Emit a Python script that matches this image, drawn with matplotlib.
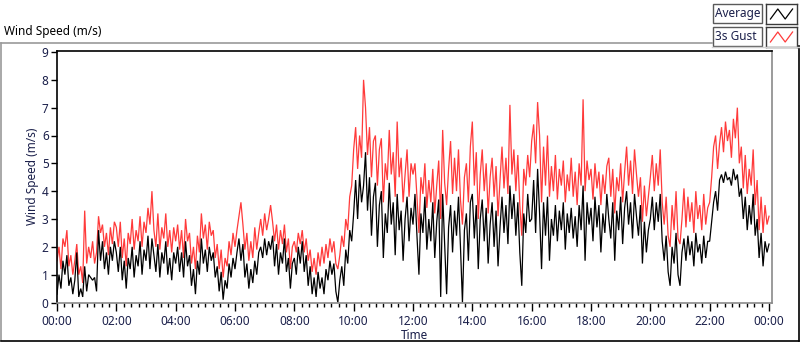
import matplotlib
matplotlib.use("Agg")
import matplotlib.pyplot as plt
from matplotlib.lines import Line2D
from matplotlib.patches import Rectangle
from matplotlib.ticker import MultipleLocator, FuncFormatter
import numpy as np

plt.rcParams['font.family'] = ['Noto Sans', 'DejaVu Sans']

# ---- data (4-minute samples, 00:00 .. 24:00) ----
step_min = 4
average = [
    # 00:00-02:00
    0.3, 1.0, 0.5, 1.5, 1.0, 1.7, 0.6, 0.9, 0.3, 0.8, 1.8, 0.2, 0.5, 0.2, 1.3, 0.4, 1.0, 0.9, 0.8, 0.9, 0.4, 2.6, 1.5, 2.2, 1.2, 1.8, 1.0, 2.0, 1.5, 2.2,
    # 02:00-04:00
    1.8, 1.1, 2.0, 0.8, 1.5, 0.5, 1.6, 1.2, 2.0, 0.9, 1.7, 1.3, 2.2, 1.0, 1.9, 1.5, 2.4, 1.2, 2.3, 1.7, 1.1, 2.1, 0.9, 1.8, 1.4, 2.2, 1.0, 1.6, 0.8, 1.8,
    # 04:00-06:00
    1.4, 2.0, 1.1, 1.8, 0.9, 2.2, 1.3, 1.7, 0.6, 1.2, 0.3, 1.5, 1.0, 2.3, 1.4, 1.9, 1.1, 2.0, 1.5, 1.8, 0.9, 1.3, 0.4, 1.1, 0.1, 0.8, 0.5, 1.4, 0.9, 1.6,
    # 06:00-08:00
    1.2, 1.8, 2.3, 1.5, 2.1, 0.9, 1.4, 0.5, 1.2, 0.7, 1.5, 1.0, 1.8, 2.0, 1.6, 2.3, 1.7, 2.2, 1.9, 2.4, 1.3, 2.1, 1.0, 1.8, 1.4, 2.3, 1.1, 1.6, 0.5, 1.4,
    # 08:00-10:00
    1.6, 1.0, 2.0, 1.4, 2.2, 1.1, 1.7, 0.6, 1.3, 0.3, 0.9, 0.2, 1.1, 0.5, 0.9, 0.3, 1.2, 0.8, 1.5, 1.0, 1.4, 0.4, 0.0, 0.8, 1.3, 0.6, 1.9, 1.4, 2.6, 2.2,
    # 10:00-12:00
    3.2, 4.4, 3.0, 4.6, 3.6, 4.2, 5.4, 3.3, 4.5, 2.4, 3.8, 4.3, 2.0, 3.5, 4.0, 1.6, 3.2, 2.5, 4.3, 2.8, 3.6, 1.7, 3.9, 2.6, 3.3, 1.5, 3.0, 3.8, 2.2, 3.4,
    # 12:00-14:00
    2.8, 3.9, 2.4, 1.0, 3.2, 2.5, 3.8, 1.9, 3.0, 2.2, 3.6, 1.6, 2.9, 3.7, 0.2, 3.9, 2.1, 0.3, 2.7, 3.5, 1.8, 3.3, 2.4, 3.8, 2.0, 0.0, 2.6, 3.2, 1.5, 3.6,
    # 14:00-16:00
    3.9, 2.3, 3.5, 1.2, 3.0, 3.7, 2.2, 3.4, 1.4, 2.8, 3.6, 2.0, 3.3, 1.3, 2.7, 3.8, 2.5, 3.5, 2.1, 4.2, 3.0, 3.9, 2.4, 3.6, 1.8, 0.6, 3.2, 2.5, 3.9, 2.9,
    # 16:00-18:00
    3.0, 4.4, 2.5, 4.8, 3.2, 1.2, 3.6, 2.4, 3.8, 1.5, 3.0, 2.4, 3.5, 2.2, 3.3, 2.6, 3.6, 1.9, 3.2, 2.5, 3.4, 2.3, 3.1, 2.0, 3.5, 2.6, 4.2, 1.5, 3.6, 2.8,
    # 18:00-20:00
    3.4, 2.2, 3.8, 2.7, 3.5, 1.8, 3.2, 2.5, 3.9, 3.0, 2.3, 3.6, 1.5, 3.3, 2.6, 3.8, 2.1, 3.4, 4.0, 2.8, 3.6, 2.3, 3.9, 3.1, 2.4, 3.5, 1.4, 2.9, 1.8, 2.6,
    # 20:00-22:00
    3.0, 3.8, 2.6, 3.6, 2.9, 3.9, 2.2, 1.5, 2.4, 1.1, 0.6, 2.0, 1.4, 2.5, 1.0, 0.6, 1.8, 2.3, 1.5, 2.4, 1.7, 2.2, 1.3, 2.5, 1.8, 2.1, 1.4, 2.4, 1.6, 2.2,
    # 22:00-24:00
    2.2, 2.9, 3.6, 4.0, 3.3, 4.4, 4.6, 4.3, 4.7, 4.4, 4.5, 4.2, 4.8, 4.4, 4.6, 3.8, 4.1, 3.0, 3.8, 2.6, 3.5, 2.8, 3.9, 2.4, 3.0, 1.6, 2.5, 1.3, 2.2, 1.8, 2.1,
]
gust_3s = [
    # 00:00-02:00
    1.5, 2.0, 1.2, 2.3, 2.0, 2.6, 1.3, 1.7, 1.0, 1.5, 2.1, 1.0, 1.3, 0.7, 3.3, 1.4, 2.0, 1.6, 2.2, 1.4, 1.8, 3.1, 2.5, 2.8, 2.0, 2.5, 1.7, 2.7, 2.1, 2.9,
    # 02:00-04:00
    2.7, 2.0, 2.9, 1.6, 2.3, 1.3, 2.5, 2.1, 3.0, 1.9, 2.6, 2.2, 3.1, 2.0, 2.9, 2.5, 3.4, 2.8, 4.0, 2.6, 2.0, 3.2, 1.9, 2.7, 2.3, 3.2, 2.0, 2.6, 1.8, 2.7,
    # 04:00-06:00
    2.2, 2.8, 1.9, 2.6, 1.6, 3.0, 2.2, 2.5, 1.4, 2.0, 1.2, 2.4, 1.8, 3.2, 2.3, 2.8, 1.9, 2.9, 2.4, 2.6, 1.6, 2.1, 1.2, 1.9, 0.9, 1.6, 1.3, 2.2, 1.7, 2.5,
    # 06:00-08:00
    2.0, 2.6, 3.1, 3.6, 2.8, 1.9, 2.5, 1.5, 2.2, 1.6, 2.7, 1.9, 2.5, 3.0, 2.4, 3.2, 2.6, 3.0, 3.5, 2.9, 2.2, 2.8, 1.9, 2.6, 2.1, 2.8, 1.8, 2.3, 1.2, 2.0,
    # 08:00-10:00
    2.2, 1.8, 2.5, 2.1, 2.6, 1.8, 2.3, 1.5, 1.9, 1.1, 1.6, 1.0, 1.8, 1.3, 2.0, 1.4, 2.1, 1.6, 2.3, 1.8, 2.2, 1.4, 1.2, 1.7, 2.4, 2.0, 3.0, 2.6, 3.8, 4.2,
    # 10:00-12:00
    5.5, 6.3, 4.8, 6.0, 5.2, 8.0, 7.0, 5.3, 6.3, 4.5, 5.8, 6.0, 4.2, 5.5, 5.9, 3.6, 5.0, 4.4, 6.2, 4.6, 5.4, 3.8, 6.5, 4.5, 5.2, 3.6, 4.6, 5.5, 3.8, 5.0,
    # 12:00-14:00
    4.6, 5.0, 3.8, 2.5, 4.5, 3.9, 5.0, 3.4, 4.4, 3.6, 4.8, 3.2, 4.2, 5.1, 3.0, 6.2, 4.3, 3.5, 4.8, 5.8, 3.9, 5.2, 4.0, 5.5, 3.7, 2.8, 4.5, 5.0, 3.6, 5.6,
    # 14:00-16:00
    6.5, 4.2, 5.4, 3.0, 4.6, 5.5, 4.0, 5.0, 3.2, 4.5, 5.2, 3.8, 4.9, 3.1, 4.4, 5.6, 4.1, 5.2, 3.9, 7.1, 4.6, 5.5, 4.0, 5.3, 3.5, 2.4, 4.8, 4.2, 5.3, 4.5,
    # 16:00-18:00
    5.8, 6.4, 5.0, 7.2, 6.0, 3.6, 5.6, 4.2, 6.0, 3.8, 4.9, 4.0, 5.3, 3.7, 4.8, 4.2, 5.1, 3.6, 4.6, 4.0, 5.2, 3.8, 4.7, 3.5, 5.0, 4.2, 7.3, 4.0, 5.1, 4.4,
    # 18:00-20:00
    4.8, 3.7, 5.0, 4.1, 4.7, 3.5, 4.6, 3.9, 4.9, 5.2, 3.8, 4.8, 3.2, 4.5, 4.0, 5.0, 3.6, 4.7, 5.6, 4.2, 5.1, 3.9, 5.5, 4.6, 3.8, 4.5, 2.9, 4.2, 3.1, 3.8,
    # 20:00-22:00
    4.5, 5.3, 4.0, 5.0, 4.2, 5.5, 3.6, 2.8, 3.8, 2.4, 2.0, 3.5, 2.6, 4.0, 2.3, 2.1, 3.0, 4.1, 2.7, 3.8, 2.9, 3.6, 2.5, 4.0, 3.0, 3.5, 2.6, 3.9, 2.8, 3.4,
    # 22:00-24:00
    3.6, 4.5, 5.6, 6.0, 4.8, 5.7, 6.3, 5.4, 6.5, 5.8, 6.2, 5.2, 6.6, 5.9, 7.0, 5.0, 5.6, 4.1, 5.3, 3.9, 4.8, 4.2, 5.5, 3.5, 4.4, 2.6, 3.8, 2.5, 3.5, 2.8, 3.1,
]
series_names = ["Average", "3s Gust"]
y_ticks = list(range(0, 10))
x_tick_hours = list(range(0, 25, 2))

minutes = np.arange(len(average)) * step_min

# ---- figure ----
W, H = 800, 342
fig = plt.figure(figsize=(W / 100, H / 100), dpi=100)
fig.patch.set_facecolor('white')

def fx(px):
    return px / W

def fy(py):
    return 1 - py / H

txt_col = '#1a1f4a'

ax = fig.add_axes([fx(57), fy(302.5), fx(772 - 57), (302.5 - 51) / H])
ax.plot(minutes, gust_3s, color='#ff3a3a', lw=0.9, solid_joinstyle='miter')
ax.plot(minutes, average, color='black', lw=0.9, solid_joinstyle='miter')

ax.set_xlim(0, 1440 * 715 / 712)
ax.set_ylim(0, 9 * 251.5 / 250.5)
ax.set_yticks(y_ticks)
ax.set_xticks([h * 60 for h in x_tick_hours])
ax.xaxis.set_minor_locator(MultipleLocator(15))
ax.xaxis.set_major_formatter(FuncFormatter(lambda v, p: "%02d:%02d" % ((int(v) // 60) % 24, int(v) % 60)))
ax.tick_params(axis='y', direction='out', length=4, width=1, colors='black', labelsize=8.5, pad=2, labelcolor=txt_col)
ax.tick_params(axis='x', which='major', direction='out', length=6, width=1, colors='black', labelsize=8.5, pad=3, labelcolor=txt_col)
ax.tick_params(axis='x', which='minor', direction='out', length=3, width=1, colors='black')
for s in ['left', 'top']:
    ax.spines[s].set_color('black')
    ax.spines[s].set_linewidth(1.2)
for s in ['right', 'bottom']:
    ax.spines[s].set_color('#8a8a8a')
    ax.spines[s].set_linewidth(1.2)
ax.set_xlabel('Time', fontsize=8.5, color=txt_col, labelpad=1)
ax.set_ylabel('Wind Speed (m/s)', fontsize=8.5, color=txt_col, labelpad=2)

# ---- outer frame and title ----
fig.text(fx(4), fy(31), 'Wind Speed (m/s)', fontsize=8.5, color='black', va='center', ha='left')
fig.add_artist(Line2D([fx(0.5), fx(712)], [fy(42.5), fy(42.5)], color='#9a9a9a', lw=1.2, transform=fig.transFigure))
fig.add_artist(Line2D([fx(0.5), fx(0.5)], [fy(42.5), fy(340)], color='#9a9a9a', lw=1.2, transform=fig.transFigure))
fig.add_artist(Line2D([fx(0.5), fx(799)], [fy(340.5), fy(340.5)], color='black', lw=1.2, transform=fig.transFigure))
fig.add_artist(Line2D([fx(798.5), fx(798.5)], [fy(46), fy(340.5)], color='black', lw=1.2, transform=fig.transFigure))
fig.add_artist(Line2D([fx(712), fx(798.5)], [fy(46.5), fy(46.5)], color='#d0d0d0', lw=1.0, transform=fig.transFigure))

# ---- legend (LabVIEW-style plot legend) ----
leg_colors = ['black', '#ff3a3a']
icon_x = [0, 1, 2, 3]
icon_y = [0, 1, 0, 1]
for i, (name, c) in enumerate(zip(series_names, leg_colors)):
    top = 4 + i * 23
    fig.add_artist(Rectangle((fx(713), fy(top + 19)), fx(49), 19 / H, transform=fig.transFigure,
                             fill=False, edgecolor='#5a5a5a', lw=1.0))
    fig.text(fx(715), fy(top + 9.5), name, fontsize=8.5, color=txt_col, va='center', ha='left')
    iax = fig.add_axes([fx(766), fy(top + 20), fx(31), 20 / H])
    iax.set_xticks([]); iax.set_yticks([])
    for s in iax.spines.values():
        s.set_color('#3a3a3a'); s.set_linewidth(1.0)
    iax.plot(icon_x, icon_y, color=c, lw=0.9)
    iax.set_xlim(-0.6, 3.6)
    iax.set_ylim(-0.5, 1.5)

fig.savefig('out.png', dpi=100)
